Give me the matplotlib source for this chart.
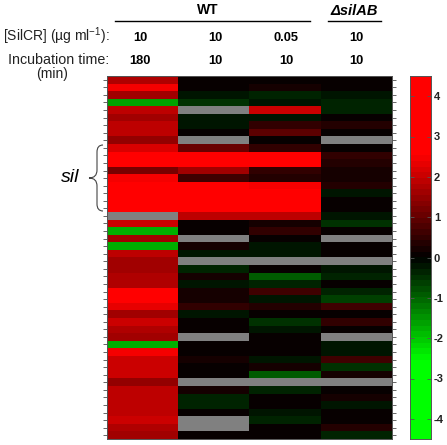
import numpy as np
import matplotlib
matplotlib.use('Agg')
import matplotlib.pyplot as plt
from matplotlib.colors import LinearSegmentedColormap
from matplotlib.patches import PathPatch
from matplotlib.path import Path

W, H = 447, 445
nan = np.nan

# expression values, one list per column, top row first
col_wt_180 = [1.7, 2.4, 1.65, -1.6, 1.9, 1.6, 1.9, 1.9, 1.5, 2.2, 2.6, 2.6, 1.25, 2.4, 2.6, 2.6,
              2.6, 2.6, nan, 2.05, -1.75, 1.6, -1.75, 1.9, 1.55, 1.55, 1.75, 1.75, 2.6, 2.6, 2.3, 1.6,
              2.0, 1.8, 1.55, -1.75, 2.4, 2.1, 2.0, 2.0, 1.5, 1.95, 1.95, 1.95, 1.95, 2.0, 1.8, 1.6]
col_wt_10 = [0, 0, -0.2, -0.45, nan, -0.2, -0.2, 0, nan, 1.1, 2.6, 2.6, 1.65, 0.6, 2.6, 2.6,
             2.6, 2.6, 1.95, 0, 0, nan, 0.25, -0.2, nan, -0.4, 0.2, -0.2, 0.2, 0.2, 0.5, -0.2,
             0, 0, nan, 0, 0, 0.2, 0, 0, nan, 0.2, -0.3, -0.4, 0, nan, nan, 0]
col_wt_005 = [0, 0.2, -0.4, -0.2, 2.1, -0.2, 0.5, 0.85, 0, 0.5, 2.6, 2.6, 0.5, 0.4, 2.4, 2.6,
              2.6, 2.6, 1.95, 0.2, 0.5, 0, -0.15, -0.15, nan, 0, -0.9, -0.4, 0.65, -0.2, 0.4, 0,
              -0.45, -0.2, 0, 0, 0, -0.15, 0.2, -0.9, nan, -0.4, 0, 0, -0.2, -0.35, 0, 0]
col_silab = [0, 0, -0.2, -0.35, -0.35, 0, 0.3, 0, nan, 0, 0.5, 0.4, 0.15, 0.15, 0.3, -0.2,
             0, 0, -0.2, -0.55, 0, nan, 0, 0, nan, -0.2, -0.35, 0, -0.35, -0.6, 0.7, 0,
             0.5, 0, nan, -0.2, -0.2, 0.7, -0.55, 0.25, nan, 0, 0.2, -0.2, 0, 0, 0.4, -0.35]

conc_labels = ['10', '10', '0.05', '10']
time_labels = ['180', '10', '10', '10']
cbar_ticks = [-4, -3, -2, -1, 0, 1, 2, 3, 4]


def px_axes(fig, x0, y0, x1, y1):
    # pixel box measured from the top left of the picture
    return fig.add_axes([x0 / W, 1 - y1 / H, (x1 - x0) / W, (y1 - y0) / H])


def px_text(fig, x, y, s, **kw):
    fig.text(x / W, 1 - y / H, s, va='center', **kw)


def px_line(fig, x0, x1, y):
    fig.add_artist(plt.Line2D([x0 / W, x1 / W], [1 - y / H, 1 - y / H], color='black', lw=1.0))


def draw_brace(fig):
    verts = [(103, 145), (97, 145), (97, 152), (97, 158), (97, 170), (97, 178), (89, 178),
             (97, 178), (97, 186), (97, 198), (97, 204), (97, 211), (103, 211)]
    codes = [Path.MOVETO] + [Path.CURVE3] * 12
    pts = [(x / W, 1 - y / H) for x, y in verts]
    fig.add_artist(PathPatch(Path(pts, codes), fc='none', ec='#444444', lw=0.8,
                             transform=fig.transFigure))


def main():
    plt.rcParams['font.family'] = ['Liberation Sans', 'DejaVu Sans']
    fig = plt.figure(figsize=(W / 100, H / 100), dpi=100)

    sat = 2.6 / 9
    cmap = LinearSegmentedColormap.from_list(
        'gkr', [(0, (0, 1, 0)), (0.5 - sat, (0, 1, 0)), (0.5, (0, 0, 0)),
                (0.5 + sat, (1, 0, 0)), (1, (1, 0, 0))], N=64)
    cmap.set_bad('#808080')

    data = np.array([col_wt_180, col_wt_10, col_wt_005, col_silab]).T
    ax = px_axes(fig, 107, 76, 392, 439)
    ax.imshow(np.ma.masked_invalid(data), cmap=cmap, vmin=-4.5, vmax=4.5,
              aspect='auto', interpolation='nearest')
    ax.set_xticks([])
    ax.set_yticks(np.arange(data.shape[0]))
    ax.tick_params(axis='y', left=True, right=True, labelleft=False, length=3,
                   width=0.7, color='#666666')
    for s in ax.spines.values():
        s.set_color('#555555')
        s.set_linewidth(0.7)

    cax = px_axes(fig, 410, 76, 431, 439)
    levels = np.linspace(4.5, -4.5, 64).reshape(-1, 1)
    cax.imshow(levels, cmap=cmap, vmin=-4.5, vmax=4.5, aspect='auto',
               extent=[0, 1, -4.5, 4.5], interpolation='nearest')
    cax.set_xticks([])
    cax.yaxis.tick_right()
    cax.set_yticks(cbar_ticks)
    cax.set_yticklabels([str(t) for t in cbar_ticks], fontsize=8, fontweight='bold',
                        color='#222222')
    cax.tick_params(axis='y', direction='in', left=True, right=True, length=3, width=0.6,
                    color='#555555', pad=2)
    for s in cax.spines.values():
        s.set_color('#555555')
        s.set_linewidth(0.7)

    px_text(fig, 208, 10, 'WT', fontsize=10, fontweight='bold', ha='center')
    px_text(fig, 354, 11, '\u0394silAB', fontsize=10.5, fontweight='bold', style='italic', ha='center')
    px_line(fig, 115, 310, 21)
    px_line(fig, 328, 381, 21)

    px_text(fig, 110, 36, '[SilCR] (\u00b5g ml$^{\\mathregular{-1}}$):', fontsize=10, ha='right',
            color='#222222')
    px_text(fig, 109, 60, 'Incubation time:', fontsize=10.3, ha='right', color='#222222')
    px_text(fig, 52, 74, '(min)', fontsize=10, ha='center', color='#222222')

    col_x = [140, 215, 286, 356]
    for x, c in zip(col_x, conc_labels):
        px_text(fig, x, 38, c, fontsize=9.3, fontweight='bold', ha='center')
    for x, t in zip(col_x, time_labels):
        px_text(fig, x, 61, t, fontsize=9.3, fontweight='bold', ha='center')

    px_text(fig, 70, 177, 'sil', fontsize=14, style='italic', ha='center')
    draw_brace(fig)

    fig.savefig('out.png', dpi=100)


if __name__ == '__main__':
    main()
